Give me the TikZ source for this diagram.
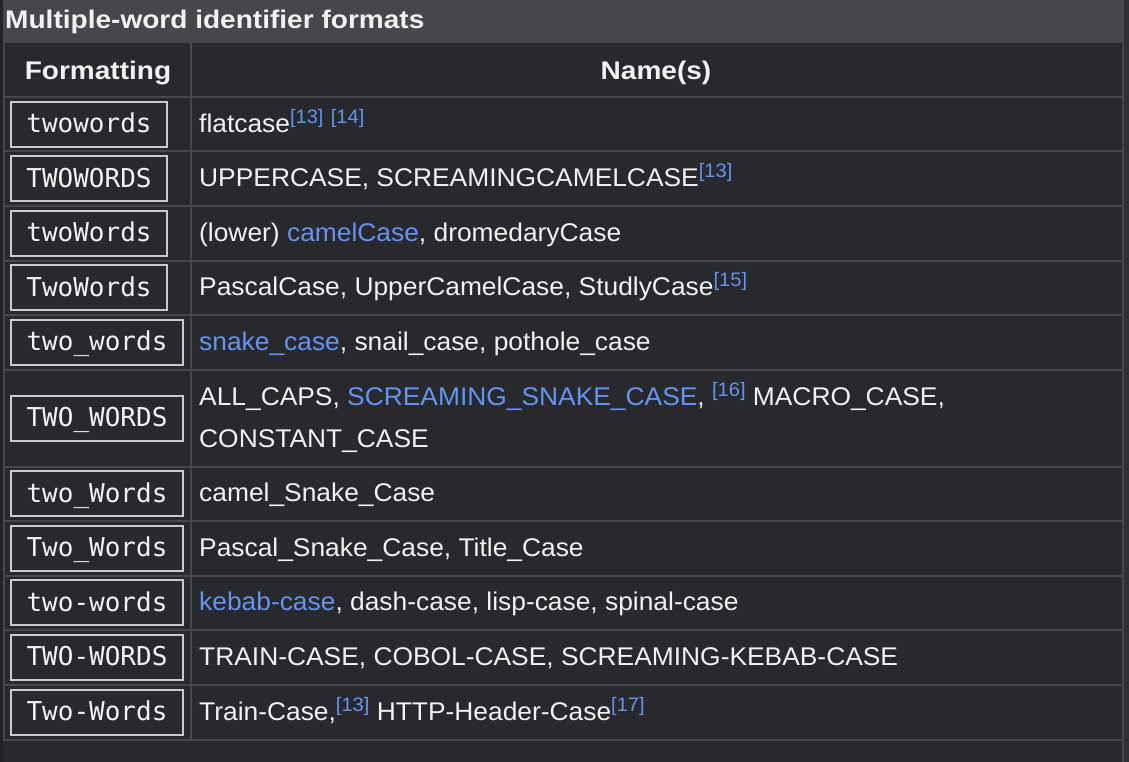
\documentclass[tikz,border=0pt]{standalone}
\usepackage{fontspec}
\setmainfont{Liberation Sans}[FakeStretch=1.03]
\newfontfamily\boldf{Liberation Sans}[FakeStretch=1.1]
\newfontfamily\monof{DejaVu Sans Mono}
\definecolor{bgc}{HTML}{28292D}
\definecolor{bandc}{HTML}{45474B}
\definecolor{gridc}{HTML}{46484C}
\definecolor{leftc}{HTML}{232427}
\definecolor{rightc}{HTML}{2E3034}
\definecolor{boxc}{HTML}{C9CACC}
\definecolor{txtc}{HTML}{F2F2F2}
\definecolor{linkblue}{HTML}{6594F0}
\newcommand\citeref[1]{\raisebox{9pt}{\fontsize{19.5}{19.5}\selectfont\color{linkblue}[#1]}}
\newcommand\lnk[1]{\textcolor{linkblue}{#1}}
\begin{document}
\begin{tikzpicture}[x=1pt,y=-1pt,
  codebox/.style={draw=boxc, line width=2pt, fill=bgc, inner sep=0pt,
    minimum height=45pt, text height=17pt, text depth=0pt,
    font=\monof\fontsize{26}{26}\selectfont, text=txtc},
  shortbox/.style={codebox, minimum width=156pt},
  longbox/.style={codebox, minimum width=172pt},
  namet/.style={anchor=base west, inner sep=0pt, text=txtc,
    font=\fontsize{25.6}{25.6}\selectfont},
  headt/.style={anchor=base, inner sep=0pt, text=txtc,
    font=\boldf\bfseries\fontsize{25.5}{25.5}\selectfont},
  gridl/.style={draw=gridc, line width=2pt}]
\useasboundingbox (0,0) rectangle (1129,762);
\fill[bgc] (0,0) rectangle (1129,762);
\fill[leftc] (0,0) rectangle (3,762);
\fill[rightc] (1123.5,0) rectangle (1129,762);
\fill[bandc] (3,0) rectangle (1123.5,43);
% grid
\draw[gridl] (4,43) -- (4,740.5);
\draw[gridl] (191,43) -- (191,740.5);
\draw[gridl] (1122.5,43) -- (1122.5,762);
\foreach \yy in {97,151.5,206,260.5,315,369.5,466.5,521,575.5,630,684.5,739.5}
  \draw[gridl] (3,\yy) -- (1123.5,\yy);
% caption and header
\node[headt, anchor=base west] (cap) at (5,28.5) {Multiple-word identifier formats};
\node[headt] (h1) at (98,80) {Formatting};
\node[headt] (h2) at (656,80) {Name(s)};
% format boxes
\node[shortbox] (f1) at (89,124.25) {twowords};
\node[shortbox] (f2) at (89,178.75) {TWOWORDS};
\node[shortbox] (f3) at (89,233.25) {twoWords};
\node[shortbox] (f4) at (89,287.75) {TwoWords};
\node[longbox] (f5) at (97,342.25) {two\_words};
\node[longbox] (f6) at (97,418) {TWO\_WORDS};
\node[longbox] (f7) at (97,493.75) {two\_Words};
\node[longbox] (f8) at (97,548.25) {Two\_Words};
\node[longbox] (f9) at (97,602.75) {two-words};
\node[longbox] (f10) at (97,657.25) {TWO-WORDS};
\node[longbox] (f11) at (97,712) {Two-Words};
% names
\node[namet] (n1) at (199,132.25) {flatcase\citeref{13} \citeref{14}};
\node[namet] (n2) at (199,186.75) {UPPERCASE, SCREAMINGCAMELCASE\citeref{13}};
\node[namet] (n3) at (199,241.25) {(lower) \lnk{camelCase}, dromedaryCase};
\node[namet] (n4) at (199,295.75) {PascalCase, UpperCamelCase, StudlyCase\citeref{15}};
\node[namet] (n5) at (199,350.25) {\lnk{snake\_case}, snail\_case, pothole\_case};
\node[namet] (n6) at (199,405.5) {ALL\_CAPS, \lnk{SCREAMING\_SNAKE\_CASE}, \citeref{16} MACRO\_CASE,};
\node[namet] (n6b) at (199,447) {CONSTANT\_CASE};
\node[namet] (n7) at (199,501.75) {camel\_Snake\_Case};
\node[namet] (n8) at (199,556.25) {Pascal\_Snake\_Case, Title\_Case};
\node[namet] (n9) at (199,610.75) {\lnk{kebab-case}, dash-case, lisp-case, spinal-case};
\node[namet] (n10) at (199,665.25) {TRAIN-CASE, COBOL-CASE, SCREAMING-KEBAB-CASE};
\node[namet] (n11) at (199,720) {Train-Case,\citeref{13} HTTP-Header-Case\citeref{17}};
\end{tikzpicture}
\end{document}
